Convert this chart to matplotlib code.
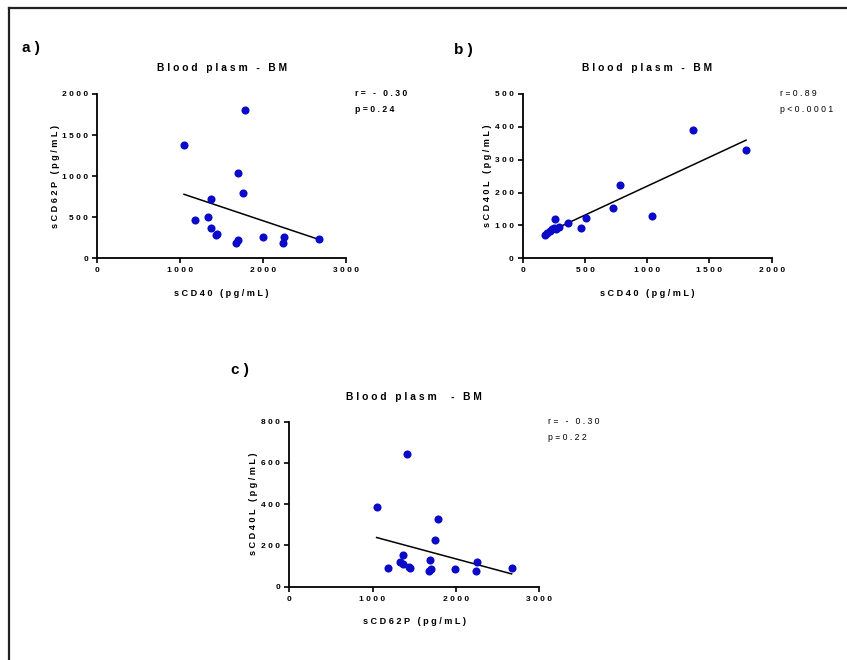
import numpy as np
import matplotlib
matplotlib.use("Agg")
import matplotlib.pyplot as plt
from matplotlib.lines import Line2D

plt.rcParams['font.family'] = ['Liberation Sans', 'DejaVu Sans']

# ---------------- data ----------------
# panel a: sCD40 vs sCD62P
a_x = [1046, 1178, 1331, 1367, 1367, 1432, 1448, 1669, 1693, 1693, 1753, 1786, 1995, 2244, 2252, 2670]
a_y = [1375, 471, 507, 726, 365, 288, 300, 185, 225, 1043, 791, 1801, 256, 191, 260, 239]
# panel b: sCD40 vs sCD40L
b_x = [179, 192, 219, 238, 250, 257, 267, 294, 364, 466, 506, 723, 781, 1041, 1365, 1794]
b_y = [72, 78, 84, 88, 92, 120, 89, 96, 108, 92, 123, 154, 224, 130, 390, 329]
# panel c: sCD62P vs sCD40L
c_x = [1049, 1186, 1330, 1362, 1370, 1410, 1434, 1450, 1674, 1690, 1698, 1754, 1786, 1995, 2243, 2251, 2671]
c_y = [388, 92, 121, 110, 154, 643, 95, 92, 76, 128, 84, 225, 326, 86, 78, 120, 92]

a_xticks = [0, 1000, 2000, 3000]
a_yticks = [0, 500, 1000, 1500, 2000]
b_xticks = [0, 500, 1000, 1500, 2000]
b_yticks = [0, 100, 200, 300, 400, 500]
c_xticks = [0, 1000, 2000, 3000]
c_yticks = [0, 200, 400, 600, 800]

panel_labels = ["a)", "b)", "c)"]
titles = ["Blood plasm - BM", "Blood plasm - BM", "Blood plasm  - BM"]
xlabels = ["sCD40 (pg/mL)", "sCD40 (pg/mL)", "sCD62P (pg/mL)"]
ylabels = ["sCD62P (pg/mL)", "sCD40L (pg/mL)", "sCD40L (pg/mL)"]
stats = [("r= - 0.30", "p=0.24"), ("r=0.89", "p<0.0001"), ("r= - 0.30", "p=0.22")]

W, H = 847, 660
DOT = '#0a0ac8'


def sp(s):
    return ' '.join(s)


fig = plt.figure(figsize=(W / 100, H / 100), dpi=100)


def px_axes(x0, x1, y_top, y_bot):
    return fig.add_axes([x0 / W, 1 - y_bot / H, (x1 - x0) / W, (y_bot - y_top) / H])


def style(ax, xt, yt):
    for s in ('top', 'right'):
        ax.spines[s].set_visible(False)
    for s in ('left', 'bottom'):
        ax.spines[s].set_linewidth(1.3)
    ax.set_xlim(xt[0], xt[-1])
    ax.set_ylim(yt[0], yt[-1])
    ax.set_xticks(xt)
    ax.set_yticks(yt)
    ax.set_xticklabels([sp(str(v)) for v in xt], fontsize=6.0, fontweight='bold')
    ax.set_yticklabels([sp(str(v)) for v in yt], fontsize=6.0, fontweight='bold')
    ax.tick_params(direction='out', length=3.5, width=1.2, pad=3)


def draw(ax, x, y, xt, yt, i, stat_bold, stat_pos, ylab_x, xlab_y, title_y, plab_pos):
    x = np.array(x, float)
    y = np.array(y, float)
    m, b = np.polyfit(x, y, 1)
    xs = np.array([x.min(), x.max()])
    ax.plot(xs, m * xs + b, color='black', lw=1.1, zorder=2)
    ax.scatter(x, y, s=34, color=DOT, zorder=3, clip_on=False, linewidths=0)
    style(ax, xt, yt)
    bb = ax.get_position()
    cx = (bb.x0 + bb.x1) / 2
    cy = (bb.y0 + bb.y1) / 2
    fig.text(cx, 1 - title_y / H, sp(titles[i]), ha='center', va='center',
             fontsize=7.4, fontweight='bold')
    fig.text(cx, 1 - xlab_y / H, sp(xlabels[i]), ha='center', va='center',
             fontsize=6.6, fontweight='bold')
    fig.text(ylab_x / W, cy, sp(ylabels[i]), ha='center', va='center', rotation=90,
             fontsize=6.6, fontweight='bold')
    fig.text(plab_pos[0] / W, 1 - plab_pos[1] / H, sp(panel_labels[i]), ha='left', va='center',
             fontsize=11, fontweight='bold')
    fw = 'bold' if stat_bold else 'normal'
    fig.text(stat_pos[0] / W, 1 - stat_pos[1] / H, sp(stats[i][0]), ha='left', va='center',
             fontsize=6.2, fontweight=fw)
    fig.text(stat_pos[0] / W, 1 - (stat_pos[1] + 16) / H, sp(stats[i][1]), ha='left', va='center',
             fontsize=6.2, fontweight=fw)


ax_a = px_axes(97.3, 346, 94, 258.3)
draw(ax_a, a_x, a_y, a_xticks, a_yticks, 0, True, (355, 94), 55, 293, 68, (22, 48))

ax_b = px_axes(522.7, 771.7, 94, 258.3)
draw(ax_b, b_x, b_y, b_xticks, b_yticks, 1, False, (780, 94), 487, 293, 68, (454, 50))

ax_c = px_axes(289.3, 539, 421.7, 586.7)
draw(ax_c, c_x, c_y, c_xticks, c_yticks, 2, False, (548, 422), 253, 622, 397, (231, 370))

# outer frame (left and top edges)
fig.add_artist(Line2D([9 / W, 9 / W], [0, 1 - 8 / H], transform=fig.transFigure,
                      color='#222222', lw=1.6))
fig.add_artist(Line2D([9 / W, 1], [1 - 8 / H, 1 - 8 / H], transform=fig.transFigure,
                      color='#222222', lw=1.6))

fig.savefig('out.png', dpi=100, facecolor='white')
